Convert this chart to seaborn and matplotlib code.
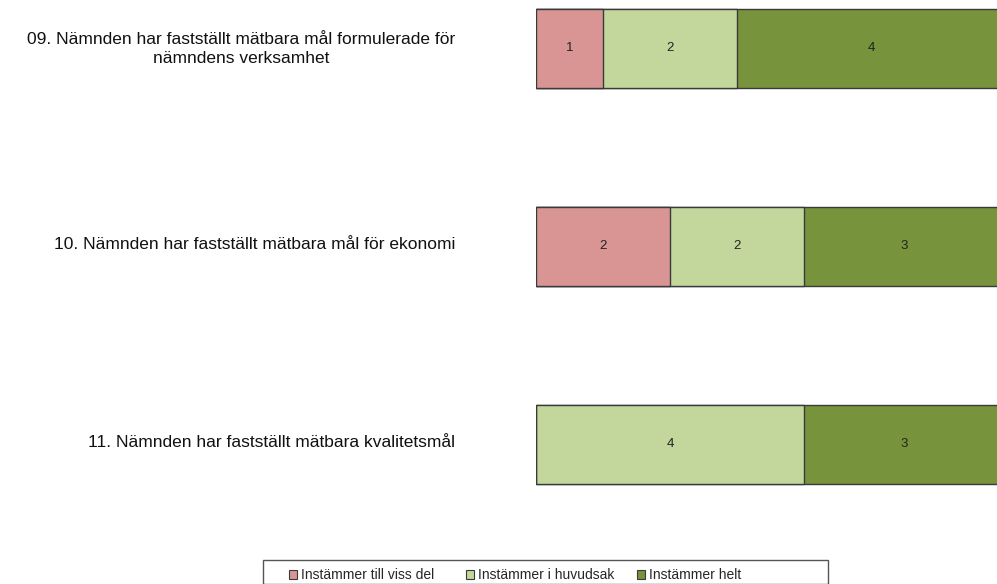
import matplotlib
matplotlib.use("Agg")
import matplotlib.pyplot as plt
import matplotlib.transforms as mtransforms
from matplotlib.patches import Patch, Rectangle
import numpy as np
import pandas as pd
import seaborn as sns

questions = [
    "09. Nämnden har fastställt mätbara mål formulerade för\nnämndens verksamhet",
    "10. Nämnden har fastställt mätbara mål för ekonomi",
    "11. Nämnden har fastställt mätbara kvalitetsmål",
]
answers = ["Instämmer till viss del", "Instämmer i huvudsak", "Instämmer helt"]
viss_del = [1, 2, 0]
huvudsak = [2, 2, 4]
helt = [4, 3, 3]
colors = ["#D99594", "#C3D69B", "#77933C"]

sns.set_style("white")
plt.rcParams["font.family"] = ["Liberation Sans", "DejaVu Sans"]

counts = np.array([viss_del, huvudsak, helt], dtype=float)
cum = counts.cumsum(axis=0)

W, H = 997, 584
fig = plt.figure(figsize=(W / 100, H / 100), dpi=100)
ax = fig.add_axes([536 / W, 1 - 543.5 / H, 469 / W, 543.5 / H])

# draw cumulative totals from the largest down so the segments stack
for i in reversed(range(len(answers))):
    df = pd.DataFrame({"question": questions, "value": cum[i]})
    sns.barplot(data=df, x="value", y="question", orient="h", color=colors[i],
                edgecolor="#3a3a3a", linewidth=1.0, width=0.4, saturation=1,
                ax=ax)

for i in range(len(answers)):
    for j in range(len(questions)):
        v = counts[i, j]
        if v > 0:
            ax.text(cum[i, j] - v / 2, j, f"{int(v)}", ha="center", va="center",
                    fontsize=9.5, color="#222222")

ax.set_xlim(0, 7)
ax.set_ylim(2.5, -48.5 / 198)
ax.set_xlabel("")
ax.set_ylabel("")
ax.set_xticks([])
sns.despine(ax=ax, left=True, bottom=True)
ax.tick_params(axis="y", length=0, pad=58)
shift = mtransforms.ScaledTranslation(0, 3 / 100, fig.dpi_scale_trans)
for lab in ax.get_yticklabels():
    lab.set_fontsize(12.5)
    lab.set_multialignment("center")
    lab.set_color("#111111")
    lab.set_linespacing(1.35)
    lab.set_transform(lab.get_transform() + shift)

# legend: frame drawn separately, one entry each so spacing matches
fig.patches.append(Rectangle((263 / W, 0), (828 - 263) / W, 1 - 560 / H,
                             transform=fig.transFigure, facecolor="none",
                             edgecolor="#555555", linewidth=1.0, clip_on=False))
for c, name, x in zip(colors, answers, [289, 466, 637]):
    fig.legend([Patch(facecolor=c, edgecolor="#3a3a3a", linewidth=0.8)], [name],
               loc="center left", bbox_to_anchor=(x / W, 1 - 575 / H),
               fontsize=10, frameon=False, handlelength=0.6, handleheight=0.6,
               handletextpad=0.25, borderpad=0, borderaxespad=0)

fig.savefig("out.png", dpi=100)
